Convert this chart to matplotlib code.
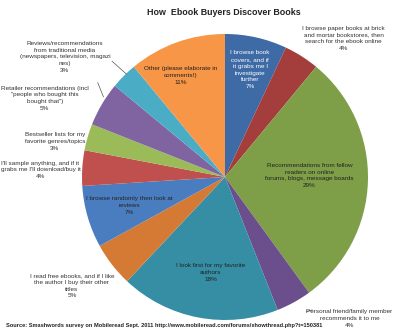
import matplotlib
matplotlib.use("Agg")
import matplotlib.pyplot as plt
from matplotlib import font_manager

names = {f.name for f in font_manager.fontManager.ttflist}
fam = "Liberation Sans Narrow" if "Liberation Sans Narrow" in names else "Liberation Sans"

labels = [
    "I browse book\ncovers, and if\nit grabs me I\ninvestigate\nfurther",
    "I browse paper books at brick\nand mortar bookstores, then\nsearch for the ebook online",
    "Recommendations from fellow\nreaders on online\nforums, blogs, message boards",
    "Personal friend/family member\nrecommends it to me",
    "I look first for my favorite\nauthors",
    "I read free ebooks, and if I like\nthe author I buy their other\ntitles",
    "I browse randomly then look at\nreviews",
    "I'll sample anything, and if it\ngrabs me I'll download/buy it",
    "Bestseller lists for my\nfavorite genres/topics",
    "Retailer recommendations (incl\n\"people who bought this\nbought that\")",
    "Reviews/recommendations\nfrom traditional media\n(newspapers, television, magazi\nnes)",
    "Other (please elaborate in\ncomments!)",
]
values = [7, 4, 29, 4, 18, 5, 7, 4, 3, 5, 3, 11]
colors = ["#3E6AA5", "#A33E3C", "#7E9F48", "#6A4F8C", "#368EA5", "#D47A35",
          "#4A7DC0", "#C0504D", "#9BBB59", "#8064A2", "#4BACC6", "#F79646"]

# label positions (pie-radius units) and text colors
label_pos = [(0.175, 0.75), (0.83, 0.97), (0.59, 0.01), (0.87, -0.99),
             (-0.10, -0.67), (-1.07, -0.76), (-0.67, -0.20), (-1.29, 0.05),
             (-1.19, 0.25), (-1.26, 0.55), (-1.12, 0.84), (-0.31, 0.71)]
label_col = ["white", "#333333", "#222222", "#333333", "#222222", "#333333",
             "#222222", "#333333", "#333333", "#333333", "#333333", "#222222"]
leaders = {3: ((0.57, -0.94), (0.61, -0.93)),
           9: ((-0.85, 0.56), (-0.89, 0.66)),
           10: ((-0.69, 0.72), (-0.79, 0.81))}

fig = plt.figure(figsize=(4.0, 3.33), dpi=100)
ax = fig.add_axes([0.205, 0.039, 0.715, 0.859])
ax.pie(values, colors=colors, startangle=90, counterclock=False,
       wedgeprops=dict(linewidth=0))
ax.set_xlim(-1, 1)
ax.set_ylim(-1, 1)
ax.set_aspect("equal")

for i, (lab, v) in enumerate(zip(labels, values)):
    x, y = label_pos[i]
    ax.text(x, y, f"{lab}\n{v}%", ha="center", va="center", fontsize=4.6,
            family=fam, color=label_col[i], linespacing=1.45, clip_on=False)
for i, (p0, p1) in leaders.items():
    ax.plot([p0[0], p1[0]], [p0[1], p1[1]], color="#555555", lw=0.5,
            clip_on=False)

fig.text(0.56, 0.963, "How  Ebook Buyers Discover Books", ha="center",
         va="center", fontsize=6.4, fontweight="bold", family=fam,
         color="#222222")
fig.text(0.015, 0.024,
         "Source: Smashwords survey on Mobileread Sept. 2011 "
         "http://www.mobileread.com/forums/showthread.php?t=150381",
         ha="left", va="center", fontsize=4.05, fontweight="bold", family=fam,
         color="#222222")

fig.savefig("out.png", dpi=100)
